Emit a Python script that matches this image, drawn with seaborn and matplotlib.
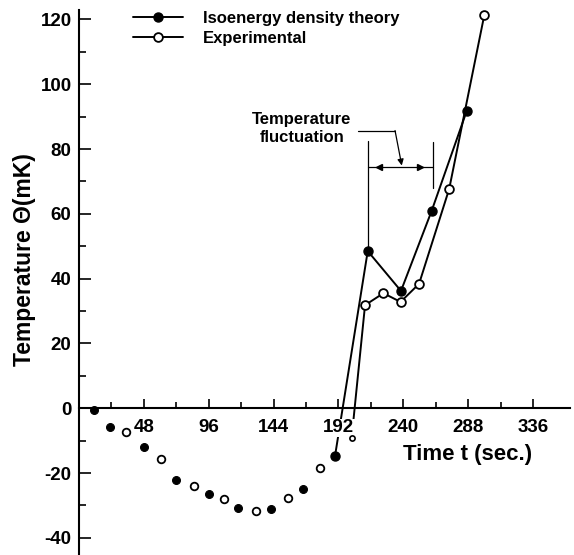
import matplotlib
matplotlib.use("Agg")
import matplotlib.pyplot as plt
import seaborn as sns
from matplotlib.ticker import FixedLocator

# ---- data ----
theory_dot_t = [11, 23, 48, 72, 96, 118, 142, 166]
theory_dot_T = [-0.6, -5.7, -12.0, -22.1, -26.5, -30.7, -31.0, -24.8]
theory_line_t = [189.5, 213.7, 238.3, 261.0, 287.0]
theory_line_T = [-14.7, 48.5, 36.2, 60.9, 91.8]

exp_dot_t = [35, 61, 85, 107, 131, 155, 178]
exp_dot_T = [-7.4, -15.6, -24.0, -27.9, -31.6, -27.7, -18.3]
exp_line_t = [201.8, 211.7, 225.3, 238.0, 251.7, 274.0, 300.0]
exp_line_T = [-9.1, 31.8, 35.5, 32.8, 38.4, 67.7, 121.4]

x_ticks = [48, 96, 144, 192, 240, 288, 336]
x_minor = [24, 72, 120, 168, 216, 264, 312]
y_ticks = [-40, -20, 0, 20, 40, 60, 80, 100, 120]
y_minor = [-30, -10, 10, 30, 50, 70, 90, 110]

label_theory = "Isoenergy density theory"
label_exp = "Experimental"
x_label = "Time t (sec.)"
y_label = "Temperature \u0398(mK)"
note_text = "Temperature\nfluctuation"

# ---- style ----
sns.set_theme(style="white")
plt.rcParams["font.family"] = ["Liberation Sans", "DejaVu Sans"]
plt.rcParams["font.weight"] = "bold"
plt.rcParams["axes.labelweight"] = "bold"
plt.rcParams["text.color"] = "black"
plt.rcParams["axes.labelcolor"] = "black"
plt.rcParams["xtick.color"] = "black"
plt.rcParams["ytick.color"] = "black"

fig = plt.figure(figsize=(5.74, 5.55), dpi=100)
ax = fig.add_axes([79 / 574, 0.0, 491 / 574, 545 / 555])

# ---- lines with markers ----
sns.lineplot(x=theory_line_t, y=theory_line_T, ax=ax, sort=False, estimator=None,
             color="black", lw=1.4, marker="o", markersize=6.5,
             markerfacecolor="black", markeredgecolor="black", markeredgewidth=1,
             label=label_theory)
sns.lineplot(x=exp_line_t, y=exp_line_T, ax=ax, sort=False, estimator=None,
             color="black", lw=1.4, marker="o", markersize=6.3,
             markerfacecolor="white", markeredgecolor="black", markeredgewidth=1.3,
             markevery=list(range(1, len(exp_line_t))),
             label=label_exp)
# small first experimental point of the rising line
sns.scatterplot(x=exp_line_t[:1], y=exp_line_T[:1], ax=ax, s=14, color="white",
                edgecolor="black", linewidth=1.2, zorder=3)

# ---- separate dots ----
sns.scatterplot(x=theory_dot_t, y=theory_dot_T, ax=ax, s=32, color="black",
                edgecolor="black", linewidth=0.8, zorder=3)
sns.scatterplot(x=exp_dot_t, y=exp_dot_T, ax=ax, s=30, color="white",
                edgecolor="black", linewidth=1.3, zorder=3)

# ---- annotation: temperature fluctuation bracket ----
ann_kw = dict(color="black", lw=0.9, zorder=2)
ax.plot([214.1, 214.1], [48.5, 82.4], **ann_kw)
ax.plot([261.8, 261.8], [67.9, 82.3], **ann_kw)
ax.plot([214.1, 261.8], [74.6, 74.6], **ann_kw)
ax.plot([222], [74.6], marker="<", ms=5, color="black", lw=0)
ax.plot([252.4], [74.6], marker=">", ms=5, color="black", lw=0)
ax.plot([206.7, 233.9], [85.7, 85.7], **ann_kw)
ax.annotate("", xy=(238.9, 74.9), xytext=(233.9, 85.7),
            arrowprops=dict(arrowstyle="-|>", lw=0.9, color="black",
                            mutation_scale=9, shrinkA=0, shrinkB=0))
ax.text(165, 86.3, note_text, ha="center", va="center", fontsize=12,
        fontweight="bold", linespacing=1.3, color="black")

# ---- axes ----
ax.set_xlim(0, 363.4)
ax.set_ylim(-45.3, 122.9)
ax.spines["top"].set_visible(False)
ax.spines["right"].set_visible(False)
ax.spines["bottom"].set_position(("data", 0))
for s in ("left", "bottom"):
    ax.spines[s].set_linewidth(1.5)
    ax.spines[s].set_color("black")

ax.xaxis.set_major_locator(FixedLocator(x_ticks))
ax.xaxis.set_minor_locator(FixedLocator(x_minor))
ax.yaxis.set_major_locator(FixedLocator(y_ticks))
ax.yaxis.set_minor_locator(FixedLocator(y_minor))
ax.set_xticklabels([str(v) for v in x_ticks])
ax.set_yticklabels([str(v) for v in y_ticks])

ax.tick_params(axis="x", which="major", direction="in", length=6.5, width=1.2,
               pad=8, labelsize=13.5, colors="black", bottom=True)
ax.tick_params(axis="x", which="minor", direction="in", length=4, width=1.2,
               bottom=True, colors="black")
ax.tick_params(axis="y", which="major", direction="in", length=8.5, width=1.2,
               pad=5.4, labelsize=13.5, colors="black", left=True)
ax.tick_params(axis="y", which="minor", direction="in", length=4.8, width=1.2,
               left=True, colors="black")
ax.set_axisbelow(False)
for lbl in ax.get_xticklabels():
    lbl.set_fontweight("bold")
    lbl.set_bbox(dict(facecolor="white", edgecolor="none", pad=0.5))
for lbl in ax.get_yticklabels():
    lbl.set_fontweight("bold")

ax.set_xlabel(x_label, fontsize=16, fontweight="bold", color="black")
ax.xaxis.set_label_coords((468 - 79) / 491, (555 - 444) / 545)
ax.set_ylabel(y_label, fontsize=16.5, fontweight="bold", color="black")
ax.yaxis.set_label_coords((36 - 79) / 491, (555 - 260) / 545)

leg = ax.legend(loc="upper left", bbox_to_anchor=(133 / 574, 1 - 11 / 555),
                bbox_transform=fig.transFigure, frameon=False, fontsize=12,
                handlelength=3.0, handletextpad=1.2, borderpad=0,
                borderaxespad=0, labelspacing=0.3)
for t in leg.get_texts():
    t.set_fontweight("bold")
    t.set_color("black")

fig.savefig("out.png", dpi=100)
